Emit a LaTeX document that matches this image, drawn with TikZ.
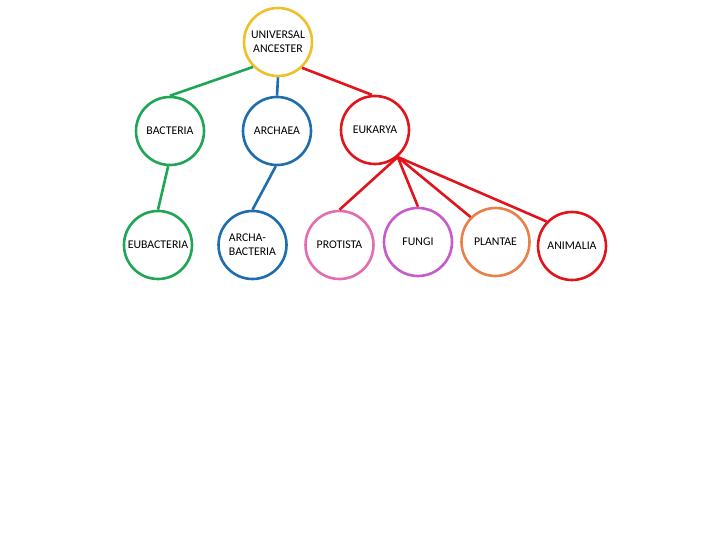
\documentclass[tikz,border=0pt]{standalone}
\usepackage{fontspec}
\setmainfont{Carlito}
\definecolor{gold}{RGB}{240,192,40}
\definecolor{leafgreen}{RGB}{30,166,85}
\definecolor{seablue}{RGB}{30,110,175}
\definecolor{brightred}{RGB}{225,20,28}
\definecolor{pinkish}{RGB}{228,108,176}
\definecolor{violet}{RGB}{200,90,204}
\definecolor{apricot}{RGB}{232,128,74}
\tikzset{
  taxon/.style={circle, draw=#1, line width=2.6pt, minimum size=68pt, inner sep=1pt, font=\fontsize{11.8}{14}\selectfont, align=center},
  branch/.style={draw=#1, line width=2.6pt}
}
\begin{document}
\begin{tikzpicture}[x=1pt,y=-1pt]
	\useasboundingbox (0,0) rectangle (720,540);
	
	% Wurzel
	\node[taxon=gold] (universal) at (278,42) {UNIVERSAL\\ANCESTER};
	
	% Domaenen
	\node[taxon=leafgreen] (bacteria) at (170,131) {BACTERIA};
	\node[taxon=seablue] (archaea) at (277,131) {ARCHAEA};
	\node[taxon=brightred] (eukarya) at (375,130) {EUKARYA};
	
	% Reiche
	\node[taxon=leafgreen] (eubacteria) at (158,245) {EUBACTERIA};
	\node[taxon=seablue, align=left] (archabacteria) at (252.5,245) {ARCHA-\\BACTERIA};
	\node[taxon=pinkish] (protista) at (339.5,245) {PROTISTA};
	\node[taxon=violet] (fungi) at (418,242) {FUNGI};
	\node[taxon=apricot] (plantae) at (495.5,242) {PLANTAE};
	\node[taxon=brightred] (animalia) at (572,246) {ANIMALIA};
	
	% Verbindungen von der Wurzel
	\draw[branch=leafgreen] (universal.225) -- (bacteria.north);
	\draw[branch=seablue] (universal.south) -- (archaea.north);
	\draw[branch=brightred] (universal.313) -- (eukarya.95);
	
	% Verbindungen zu den Reichen
	\draw[branch=leafgreen] (bacteria.267) -- (eubacteria.north);
	\draw[branch=seablue] (archaea.268) -- (archabacteria.north);
	\foreach \kingdom/\angle in {protista/90,fungi/90,plantae/135,animalia/136} {
		\draw[branch=brightred] (eukarya.310) -- (\kingdom.\angle);
	}
\end{tikzpicture}
\end{document}
